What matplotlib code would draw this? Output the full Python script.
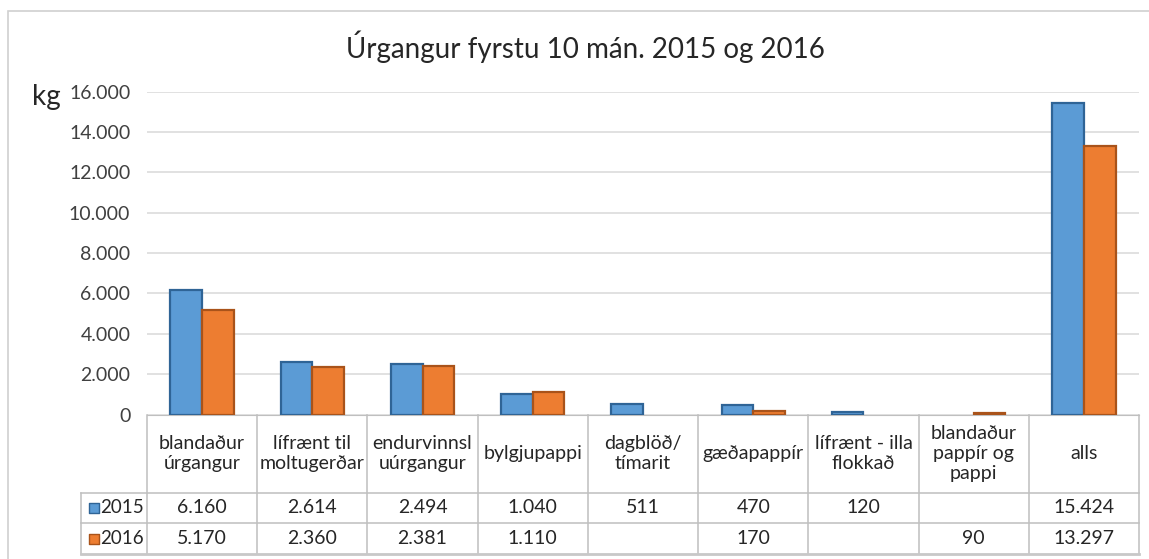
import numpy as np
import matplotlib.pyplot as plt
from matplotlib.patches import Rectangle
from matplotlib.transforms import blended_transform_factory

plt.rcParams['font.family'] = ['Lato', 'DejaVu Sans']

categories = ["blandaður\núrgangur", "lífrænt til\nmoltugerðar", "endurvinnsl\nuúrgangur",
              "bylgjupappi", "dagblöð/\ntímarit", "gæðapappír", "lífrænt - illa\nflokkað",
              "blandaður\npappír og\npappi", "alls"]
years = ["2015", "2016"]
v2015 = [6160, 2614, 2494, 1040, 511, 470, 120, np.nan, 15424]
v2016 = [5170, 2360, 2381, 1110, np.nan, 170, np.nan, 90, 13297]
yticks = [0, 2000, 4000, 6000, 8000, 10000, 12000, 14000, 16000]

fills = ["#5B9BD5", "#ED7D31"]
edges = ["#2F6496", "#A9531A"]


def fmt(v):
    if np.isnan(v):
        return ""
    return f"{v:,.0f}".replace(",", ".")


W, H = 1149, 559
fig = plt.figure(figsize=(W / 100, H / 100), dpi=100)

# axes placed in pixel terms
left, right, top, bottom = 147, 1139, 91.7, 414.5
ax = fig.add_axes([left / W, 1 - bottom / H, (right - left) / W, (bottom - top) / H])
ax_h = bottom - top

n = len(categories)
x = np.arange(n)
bw = 0.287
for i, vals in enumerate([v2015, v2016]):
    ax.bar(x + (i - 0.5) * bw, vals, bw, color=fills[i], edgecolor=edges[i],
           linewidth=1.6, zorder=3)

ax.set_xlim(-0.5, n - 0.5)
ax.set_ylim(0, 16000)
ax.set_yticks(yticks)
ax.set_yticklabels([fmt(t) for t in yticks], fontsize=14, color="#404040")
ax.tick_params(axis="y", length=0, pad=12)
ax.set_xticks([])
ax.grid(axis="y", color="#D9D9D9", linewidth=1.1, zorder=0)
for s in ["top", "right", "left"]:
    ax.spines[s].set_visible(False)
ax.spines["bottom"].set_color("#BFBFBF")

# data table below the plot
tr = blended_transform_factory(ax.transData, ax.transAxes)
header_h, row_h = 78, 30.7
y_head = 0
y_r1 = -header_h / ax_h
y_r2 = y_r1 - row_h / ax_h
y_r3 = y_r2 - row_h / ax_h
x_lab = -0.5 - (left - 80.7) / ((right - left) / n)
lc = "#BFBFBF"
kw = dict(transform=tr, clip_on=False, color=lc, linewidth=1.1)

for b in np.arange(n + 1) - 0.5:
    ax.plot([b, b], [y_head, y_r3], **kw)
ax.plot([x_lab, x_lab], [y_r1, y_r3], **kw)
for yy in [y_r1, y_r2]:
    ax.plot([x_lab, n - 0.5], [yy, yy], **kw)
ax.plot([x_lab, n - 0.5], [y_r3, y_r3], transform=tr, clip_on=False,
        color="#C8C8C8", linewidth=2)

for i, c in enumerate(categories):
    ax.text(i, (y_head + y_r1) / 2, c, transform=tr, ha="center", va="center",
            fontsize=14, color="#262626", linespacing=1.2)

for r, (vals, yy) in enumerate(zip([v2015, v2016], [y_r1, y_r2])):
    yc = yy - row_h / ax_h / 2
    for i, v in enumerate(vals):
        ax.text(i, yc, fmt(v), transform=tr, ha="center", va="center",
                fontsize=14, color="#262626")
    ax.scatter([x_lab + 0.12], [yc], transform=tr, clip_on=False, marker="s", s=60,
               color=fills[r], edgecolors=edges[r], linewidths=1)
    ax.text(x_lab + 0.18, yc, years[r], transform=tr, ha="left", va="center",
            fontsize=13.5, color="#262626")

fig.text(585 / W, 1 - 47 / H, "Úrgangur fyrstu 10 mán. 2015 og 2016", ha="center",
         va="center", fontsize=20, color="#262626")
fig.text(32 / W, 1 - 97 / H, "kg", ha="left", va="center", fontsize=20, color="#262626")

fig.patches.append(Rectangle((8 / W, -0.1), 1.2, 1.1 - 11 / H, transform=fig.transFigure,
                             fill=False, edgecolor="#D0D0D0", linewidth=1.2))

fig.savefig("out.png", dpi=100)
